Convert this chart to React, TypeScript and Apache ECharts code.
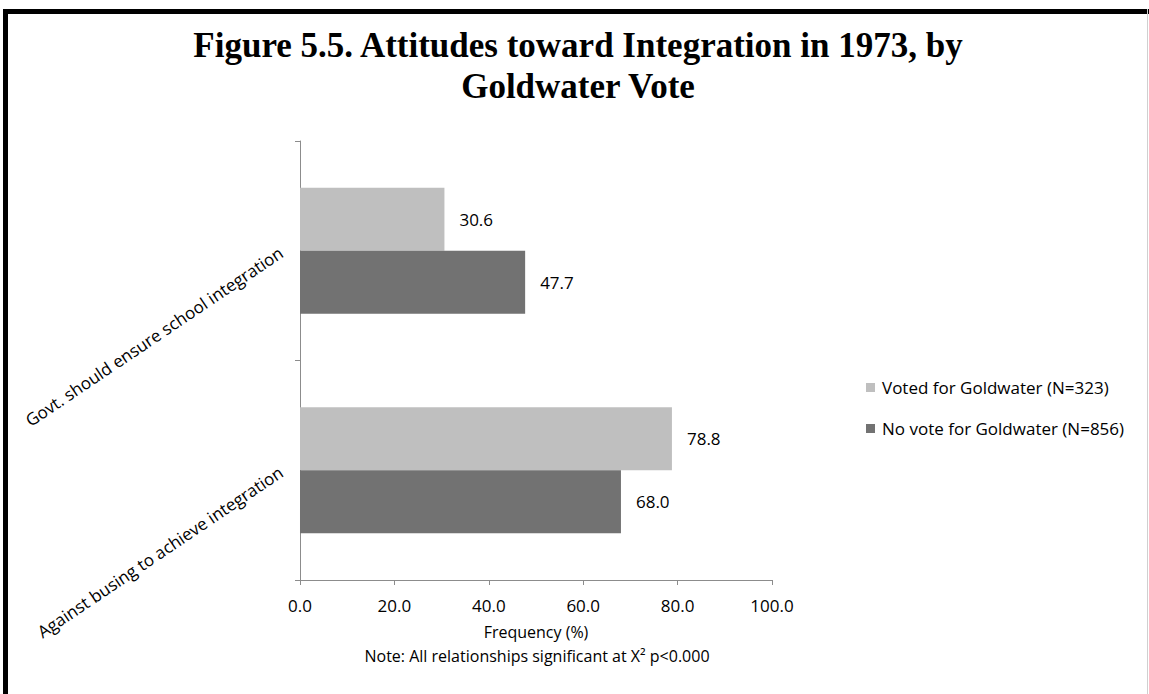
import React, { useEffect, useRef } from "react";
import * as echarts from "echarts";

const categories = [
  "Govt. should ensure school integration",
  "Against busing to achieve integration",
];
const seriesNames = ["Voted for Goldwater (N=323)", "No vote for Goldwater (N=856)"];
const votedValues = [30.6, 78.8];
const noVoteValues = [47.7, 68.0];
const seriesColors = ["#bfbfbf", "#727272"];
const titleText = "Figure 5.5. Attitudes toward Integration in 1973, by\nGoldwater Vote";
const axisName = "Frequency (%)";
const noteText = "Note: All relationships significant at X² p<0.000";

const FONT = "'Open Sans', sans-serif";

export default function App() {
  const ref = useRef<HTMLDivElement>(null);
  useEffect(() => {
    if (!ref.current) return;
    const chart = echarts.init(ref.current, null, { renderer: "svg" });
    const values = [votedValues, noVoteValues];
    chart.setOption({
      animation: false,
      backgroundColor: "#ffffff",
      legend: {
        orient: "vertical",
        left: 866,
        top: 379,
        padding: 0,
        itemWidth: 9,
        itemHeight: 9,
        itemGap: 24,
        icon: "rect",
        textStyle: { fontFamily: FONT, fontSize: 17, color: "#000", padding: [0, 0, 0, 2] },
        data: seriesNames,
      },
      grid: { left: 300, top: 141, width: 472, height: 439 },
      xAxis: {
        type: "value",
        min: 0,
        max: 100,
        interval: 20,
        name: axisName,
        nameLocation: "middle",
        nameGap: 44,
        nameTextStyle: { fontFamily: FONT, fontSize: 16, color: "#000" },
        axisLine: { show: true, lineStyle: { color: "#8c8c8c", width: 1 } },
        axisTick: { show: true, length: 5, lineStyle: { color: "#8c8c8c" } },
        splitLine: { show: false },
        axisLabel: {
          fontFamily: FONT,
          fontSize: 17,
          color: "#000",
          margin: 17,
          formatter: (v: number) => v.toFixed(1),
        },
      },
      yAxis: {
        type: "category",
        inverse: true,
        data: categories,
        axisLine: { show: true, lineStyle: { color: "#8c8c8c", width: 1 } },
        axisTick: { show: true, length: 5, lineStyle: { color: "#8c8c8c" } },
        axisLabel: {
          rotate: 34,
          fontFamily: FONT,
          fontSize: 17,
          color: "#000",
          margin: 19,
        },
      },
      series: seriesNames.map((name, i) => ({
        name,
        type: "bar",
        data: values[i],
        barGap: "0%",
        barCategoryGap: "42.6%",
        itemStyle: { color: seriesColors[i] },
        label: {
          show: true,
          position: "right",
          distance: 15,
          fontFamily: FONT,
          fontSize: 17,
          color: "#000",
          formatter: (p: any) => Number(p.value).toFixed(1),
        },
      })),
      graphic: [
        { type: "rect", shape: { x: 3, y: 9, width: 1146, height: 5 }, style: { fill: "#000" } },
        { type: "rect", shape: { x: 3, y: 9, width: 5, height: 685 }, style: { fill: "#000" } },
        { type: "rect", shape: { x: 1147, y: 9, width: 1, height: 685 }, style: { fill: "#d0d0d0" } },
        {
          type: "text",
          x: 578,
          y: 25,
          style: {
            text: titleText,
            fontFamily: "'Liberation Serif', 'Times New Roman', serif",
            fontWeight: "bold",
            fontSize: 35,
            lineHeight: 41,
            fill: "#000",
            textAlign: "center",
            textVerticalAlign: "top",
          },
        },
        {
          type: "text",
          x: 537,
          y: 656,
          style: {
            text: noteText,
            fontFamily: FONT,
            fontSize: 16,
            fill: "#000",
            textAlign: "center",
            textVerticalAlign: "middle",
          },
        },
      ],
    });
    return () => chart.dispose();
  }, []);
  return (
    <div
      ref={ref}
      style={{ position: "absolute", left: 0, top: 0, width: 1149, height: 694 }}
    />
  );
}
